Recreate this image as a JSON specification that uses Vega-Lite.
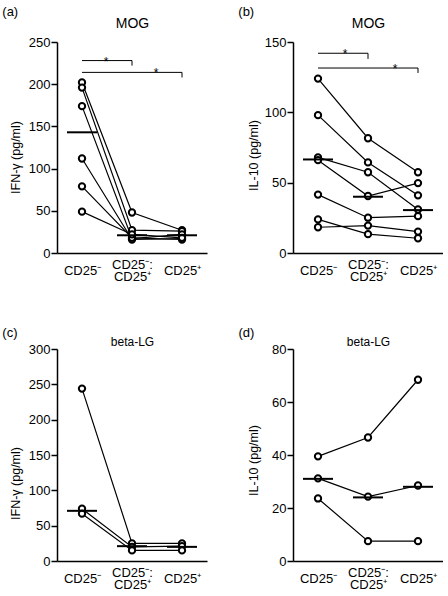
{
  "$schema": "https://vega.github.io/schema/vega-lite/v6.json",
  "background": "white",
  "padding": {"left": 2, "top": 6, "right": 0, "bottom": 0},
  "config": {
    "font": "Liberation Sans",
    "view": {"stroke": null},
    "mark": {"color": "black"},
    "axis": {"domainColor": "black", "tickColor": "black", "labelColor": "black", "titleColor": "black", "labelFontSize": 13, "titleFontSize": 12.5, "titleFontWeight": "normal", "grid": false, "domainWidth": 1.5, "tickWidth": 1.5, "tickSize": 6, "labelPadding": 1},
    "title": {"fontSize": 13, "fontWeight": "normal", "anchor": "start", "frame": "bounds", "color": "black"},
    "concat": {"spacing": 31}
  },
  "datasets": {
    "a": [
      {"donor": 1, "group": "neg", "value": 202}, {"donor": 1, "group": "mix", "value": 48}, {"donor": 1, "group": "pos", "value": 27},
      {"donor": 2, "group": "neg", "value": 196}, {"donor": 2, "group": "mix", "value": 27}, {"donor": 2, "group": "pos", "value": 26},
      {"donor": 3, "group": "neg", "value": 174}, {"donor": 3, "group": "mix", "value": 17}, {"donor": 3, "group": "pos", "value": 22},
      {"donor": 4, "group": "neg", "value": 112}, {"donor": 4, "group": "mix", "value": 16}, {"donor": 4, "group": "pos", "value": 17},
      {"donor": 5, "group": "neg", "value": 79}, {"donor": 5, "group": "mix", "value": 18}, {"donor": 5, "group": "pos", "value": 16},
      {"donor": 6, "group": "neg", "value": 49}, {"donor": 6, "group": "mix", "value": 22}, {"donor": 6, "group": "pos", "value": 18}
    ],
    "a_med": [{"group": "neg", "value": 143}, {"group": "mix", "value": 21}, {"group": "pos", "value": 21}],
    "a_br": [
      {"x": "neg", "x2": "mix", "sx": "neg", "value": 228, "value2": 222},
      {"x": "neg", "x2": "pos", "sx": "mix", "value": 214, "value2": 208}
    ],
    "b": [
      {"donor": 1, "group": "neg", "value": 124}, {"donor": 1, "group": "mix", "value": 81.6}, {"donor": 1, "group": "pos", "value": 57.4},
      {"donor": 2, "group": "neg", "value": 98}, {"donor": 2, "group": "mix", "value": 64.4}, {"donor": 2, "group": "pos", "value": 41},
      {"donor": 3, "group": "neg", "value": 68}, {"donor": 3, "group": "mix", "value": 57.4}, {"donor": 3, "group": "pos", "value": 30.9},
      {"donor": 4, "group": "neg", "value": 66}, {"donor": 4, "group": "mix", "value": 40.5}, {"donor": 4, "group": "pos", "value": 49.7},
      {"donor": 5, "group": "neg", "value": 41.5}, {"donor": 5, "group": "mix", "value": 25.1}, {"donor": 5, "group": "pos", "value": 26.2},
      {"donor": 6, "group": "neg", "value": 23.9}, {"donor": 6, "group": "mix", "value": 13.4}, {"donor": 6, "group": "pos", "value": 10.5},
      {"donor": 7, "group": "neg", "value": 18.3}, {"donor": 7, "group": "mix", "value": 19.5}, {"donor": 7, "group": "pos", "value": 15.2}
    ],
    "b_med": [{"group": "neg", "value": 66.5}, {"group": "mix", "value": 40}, {"group": "pos", "value": 30.5}],
    "b_br": [
      {"x": "neg", "x2": "mix", "sx": "neg", "value": 142, "value2": 138},
      {"x": "neg", "x2": "pos", "sx": "mix", "value": 131.5, "value2": 128}
    ],
    "c": [
      {"donor": 1, "group": "neg", "value": 244}, {"donor": 1, "group": "mix", "value": 25}, {"donor": 1, "group": "pos", "value": 25},
      {"donor": 2, "group": "neg", "value": 74}, {"donor": 2, "group": "mix", "value": 20}, {"donor": 2, "group": "pos", "value": 21},
      {"donor": 3, "group": "neg", "value": 67}, {"donor": 3, "group": "mix", "value": 15}, {"donor": 3, "group": "pos", "value": 15}
    ],
    "c_med": [{"group": "neg", "value": 71}, {"group": "mix", "value": 21}, {"group": "pos", "value": 20}],
    "d": [
      {"donor": 1, "group": "neg", "value": 39.5}, {"donor": 1, "group": "mix", "value": 46.6}, {"donor": 1, "group": "pos", "value": 68.4},
      {"donor": 2, "group": "neg", "value": 31.2}, {"donor": 2, "group": "mix", "value": 24.3}, {"donor": 2, "group": "pos", "value": 28.5},
      {"donor": 3, "group": "neg", "value": 23.6}, {"donor": 3, "group": "mix", "value": 7.5}, {"donor": 3, "group": "pos", "value": 7.5}
    ],
    "d_med": [{"group": "neg", "value": 31}, {"group": "mix", "value": 24}, {"group": "pos", "value": 28}]
  },
  "spacing": 44,
  "vconcat": [
    {
      "hconcat": [
        {
          "title": {"text": "(a)", "dx": -7, "offset": -3},
          "width": 150, "height": 211,
          "resolve": {"axis": {"x": "independent", "y": "independent"}},
          "layer": [
            {"data": {"name": "a"}, "mark": {"type": "line", "color": "black", "strokeWidth": 1.2},
             "encoding": {
               "x": {"field": "group", "type": "nominal", "scale": {"type": "point", "domain": ["neg", "mix", "pos"], "padding": 0.5},
                     "axis": {"title": null, "ticks": false, "labelAngle": 0, "labelBaseline": "middle", "labelLineHeight": 12, "labelOverlap": false, "labelFlush": false,
                              "labelPadding": {"condition": {"test": "datum.value == 'mix'", "value": 11}, "value": 17},
                              "labelExpr": "datum.value == 'neg' ? 'CD25⁻' : datum.value == 'mix' ? ['CD25⁻:', 'CD25⁺'] : 'CD25⁺'"}},
               "y": {"field": "value", "type": "quantitative", "scale": {"domain": [0, 250]}, "axis": {"title": "IFN-γ (pg/ml)", "values": [0, 50, 100, 150, 200, 250], "titlePadding": 6, "titleY": 115, "labelOverlap": false}},
               "detail": {"field": "donor"},
               "order": {"value": null}}},
            {"data": {"name": "a"}, "mark": {"type": "point", "shape": "circle", "filled": true, "fill": "white", "stroke": "black", "strokeWidth": 2, "size": 40, "opacity": 1},
             "encoding": {
               "x": {"field": "group", "type": "nominal", "scale": {"type": "point", "domain": ["neg", "mix", "pos"], "padding": 0.5}, "axis": null},
               "y": {"field": "value", "type": "quantitative", "scale": {"domain": [0, 250]}, "axis": null}}},
            {"data": {"name": "a_med"}, "mark": {"type": "tick", "color": "black", "size": 30, "thickness": 2, "opacity": 1},
             "encoding": {
               "x": {"field": "group", "type": "nominal", "scale": {"type": "point", "domain": ["neg", "mix", "pos"], "padding": 0.5},
                     "axis": {"orient": "top", "title": "MOG", "titleFontSize": 14, "titlePadding": 12, "domain": false, "ticks": false, "labels": false}},
               "y": {"field": "value", "type": "quantitative", "scale": {"domain": [0, 250]}, "axis": null}}},
            {"data": {"name": "a_br"}, "mark": {"type": "rule", "color": "black", "stroke": "black", "strokeWidth": 1},
             "encoding": {
               "x": {"field": "x", "type": "nominal", "scale": {"type": "point", "domain": ["neg", "mix", "pos"], "padding": 0.5}, "axis": null},
               "x2": {"field": "x2"},
               "y": {"field": "value", "type": "quantitative", "scale": {"domain": [0, 250]}, "axis": null}}},
            {"data": {"name": "a_br"}, "mark": {"type": "rule", "color": "black", "stroke": "black", "strokeWidth": 1},
             "encoding": {
               "x": {"field": "x2", "type": "nominal", "scale": {"type": "point", "domain": ["neg", "mix", "pos"], "padding": 0.5}, "axis": null},
               "y": {"field": "value", "type": "quantitative", "scale": {"domain": [0, 250]}, "axis": null},
               "y2": {"field": "value2"}}},
            {"data": {"name": "a_br"}, "mark": {"type": "text", "text": "*", "fontSize": 12, "dx": 24, "dy": 5, "baseline": "alphabetic", "color": "black", "fill": "black"},
             "encoding": {
               "x": {"field": "sx", "type": "nominal", "scale": {"type": "point", "domain": ["neg", "mix", "pos"], "padding": 0.5}, "axis": null},
               "y": {"field": "value", "type": "quantitative", "scale": {"domain": [0, 250]}, "axis": null}}}
          ]
        },
        {
          "title": {"text": "(b)", "dx": -9, "offset": -3},
          "width": 150, "height": 211,
          "resolve": {"axis": {"x": "independent", "y": "independent"}},
          "layer": [
            {"data": {"name": "b"}, "mark": {"type": "line", "color": "black", "strokeWidth": 1.2},
             "encoding": {
               "x": {"field": "group", "type": "nominal", "scale": {"type": "point", "domain": ["neg", "mix", "pos"], "padding": 0.5},
                     "axis": {"title": null, "ticks": false, "labelAngle": 0, "labelBaseline": "middle", "labelLineHeight": 12, "labelOverlap": false, "labelFlush": false,
                              "labelPadding": {"condition": {"test": "datum.value == 'mix'", "value": 11}, "value": 17},
                              "labelExpr": "datum.value == 'neg' ? 'CD25⁻' : datum.value == 'mix' ? ['CD25⁻:', 'CD25⁺'] : 'CD25⁺'"}},
               "y": {"field": "value", "type": "quantitative", "scale": {"domain": [0, 150]}, "axis": {"title": "IL-10 (pg/ml)", "values": [0, 50, 100, 150], "titlePadding": 4, "titleY": 113, "labelOverlap": false}},
               "detail": {"field": "donor"},
               "order": {"value": null}}},
            {"data": {"name": "b"}, "mark": {"type": "point", "shape": "circle", "filled": true, "fill": "white", "stroke": "black", "strokeWidth": 2, "size": 40, "opacity": 1},
             "encoding": {
               "x": {"field": "group", "type": "nominal", "scale": {"type": "point", "domain": ["neg", "mix", "pos"], "padding": 0.5}, "axis": null},
               "y": {"field": "value", "type": "quantitative", "scale": {"domain": [0, 150]}, "axis": null}}},
            {"data": {"name": "b_med"}, "mark": {"type": "tick", "color": "black", "size": 30, "thickness": 2, "opacity": 1},
             "encoding": {
               "x": {"field": "group", "type": "nominal", "scale": {"type": "point", "domain": ["neg", "mix", "pos"], "padding": 0.5},
                     "axis": {"orient": "top", "title": "MOG", "titleFontSize": 14, "titlePadding": 12, "domain": false, "ticks": false, "labels": false}},
               "y": {"field": "value", "type": "quantitative", "scale": {"domain": [0, 150]}, "axis": null}}},
            {"data": {"name": "b_br"}, "mark": {"type": "rule", "color": "black", "stroke": "black", "strokeWidth": 1},
             "encoding": {
               "x": {"field": "x", "type": "nominal", "scale": {"type": "point", "domain": ["neg", "mix", "pos"], "padding": 0.5}, "axis": null},
               "x2": {"field": "x2"},
               "y": {"field": "value", "type": "quantitative", "scale": {"domain": [0, 150]}, "axis": null}}},
            {"data": {"name": "b_br"}, "mark": {"type": "rule", "color": "black", "stroke": "black", "strokeWidth": 1},
             "encoding": {
               "x": {"field": "x2", "type": "nominal", "scale": {"type": "point", "domain": ["neg", "mix", "pos"], "padding": 0.5}, "axis": null},
               "y": {"field": "value", "type": "quantitative", "scale": {"domain": [0, 150]}, "axis": null},
               "y2": {"field": "value2"}}},
            {"data": {"name": "b_br"}, "mark": {"type": "text", "text": "*", "fontSize": 12, "dx": 27, "dy": 5, "baseline": "alphabetic", "color": "black", "fill": "black"},
             "encoding": {
               "x": {"field": "sx", "type": "nominal", "scale": {"type": "point", "domain": ["neg", "mix", "pos"], "padding": 0.5}, "axis": null},
               "y": {"field": "value", "type": "quantitative", "scale": {"domain": [0, 150]}, "axis": null}}}
          ]
        }
      ]
    },
    {
      "hconcat": [
        {
          "title": {"text": "(c)", "dx": -7, "offset": -5},
          "width": 150, "height": 212,
          "resolve": {"axis": {"x": "independent", "y": "independent"}},
          "layer": [
            {"data": {"name": "c"}, "mark": {"type": "line", "color": "black", "strokeWidth": 1.2},
             "encoding": {
               "x": {"field": "group", "type": "nominal", "scale": {"type": "point", "domain": ["neg", "mix", "pos"], "padding": 0.5},
                     "axis": {"title": null, "ticks": false, "labelAngle": 0, "labelBaseline": "middle", "labelLineHeight": 12, "labelOverlap": false, "labelFlush": false,
                              "labelPadding": {"condition": {"test": "datum.value == 'mix'", "value": 11}, "value": 17},
                              "labelExpr": "datum.value == 'neg' ? 'CD25⁻' : datum.value == 'mix' ? ['CD25⁻:', 'CD25⁺'] : 'CD25⁺'"}},
               "y": {"field": "value", "type": "quantitative", "scale": {"domain": [0, 300]}, "axis": {"title": "IFN-γ (pg/ml)", "values": [0, 50, 100, 150, 200, 250, 300], "titlePadding": 6, "titleY": 134, "labelOverlap": false}},
               "detail": {"field": "donor"},
               "order": {"value": null}}},
            {"data": {"name": "c"}, "mark": {"type": "point", "shape": "circle", "filled": true, "fill": "white", "stroke": "black", "strokeWidth": 2, "size": 40, "opacity": 1},
             "encoding": {
               "x": {"field": "group", "type": "nominal", "scale": {"type": "point", "domain": ["neg", "mix", "pos"], "padding": 0.5}, "axis": null},
               "y": {"field": "value", "type": "quantitative", "scale": {"domain": [0, 300]}, "axis": null}}},
            {"data": {"name": "c_med"}, "mark": {"type": "tick", "color": "black", "size": 30, "thickness": 2, "opacity": 1},
             "encoding": {
               "x": {"field": "group", "type": "nominal", "scale": {"type": "point", "domain": ["neg", "mix", "pos"], "padding": 0.5},
                     "axis": {"orient": "top", "title": "beta-LG", "titleFontSize": 12, "titlePadding": 1, "domain": false, "ticks": false, "labels": false}},
               "y": {"field": "value", "type": "quantitative", "scale": {"domain": [0, 300]}, "axis": null}}}
          ]
        },
        {
          "title": {"text": "(d)", "dx": -9, "offset": -5},
          "width": 150, "height": 212,
          "resolve": {"axis": {"x": "independent", "y": "independent"}},
          "layer": [
            {"data": {"name": "d"}, "mark": {"type": "line", "color": "black", "strokeWidth": 1.2},
             "encoding": {
               "x": {"field": "group", "type": "nominal", "scale": {"type": "point", "domain": ["neg", "mix", "pos"], "padding": 0.5},
                     "axis": {"title": null, "ticks": false, "labelAngle": 0, "labelBaseline": "middle", "labelLineHeight": 12, "labelOverlap": false, "labelFlush": false,
                              "labelPadding": {"condition": {"test": "datum.value == 'mix'", "value": 11}, "value": 17},
                              "labelExpr": "datum.value == 'neg' ? 'CD25⁻' : datum.value == 'mix' ? ['CD25⁻:', 'CD25⁺'] : 'CD25⁺'"}},
               "y": {"field": "value", "type": "quantitative", "scale": {"domain": [0, 80]}, "axis": {"title": "IL-10 (pg/ml)", "values": [0, 20, 40, 60, 80], "titlePadding": 11, "titleY": 111, "labelOverlap": false}},
               "detail": {"field": "donor"},
               "order": {"value": null}}},
            {"data": {"name": "d"}, "mark": {"type": "point", "shape": "circle", "filled": true, "fill": "white", "stroke": "black", "strokeWidth": 2, "size": 40, "opacity": 1},
             "encoding": {
               "x": {"field": "group", "type": "nominal", "scale": {"type": "point", "domain": ["neg", "mix", "pos"], "padding": 0.5}, "axis": null},
               "y": {"field": "value", "type": "quantitative", "scale": {"domain": [0, 80]}, "axis": null}}},
            {"data": {"name": "d_med"}, "mark": {"type": "tick", "color": "black", "size": 30, "thickness": 2, "opacity": 1},
             "encoding": {
               "x": {"field": "group", "type": "nominal", "scale": {"type": "point", "domain": ["neg", "mix", "pos"], "padding": 0.5},
                     "axis": {"orient": "top", "title": "beta-LG", "titleFontSize": 12, "titlePadding": 1, "domain": false, "ticks": false, "labels": false}},
               "y": {"field": "value", "type": "quantitative", "scale": {"domain": [0, 80]}, "axis": null}}}
          ]
        }
      ]
    }
  ]
}
